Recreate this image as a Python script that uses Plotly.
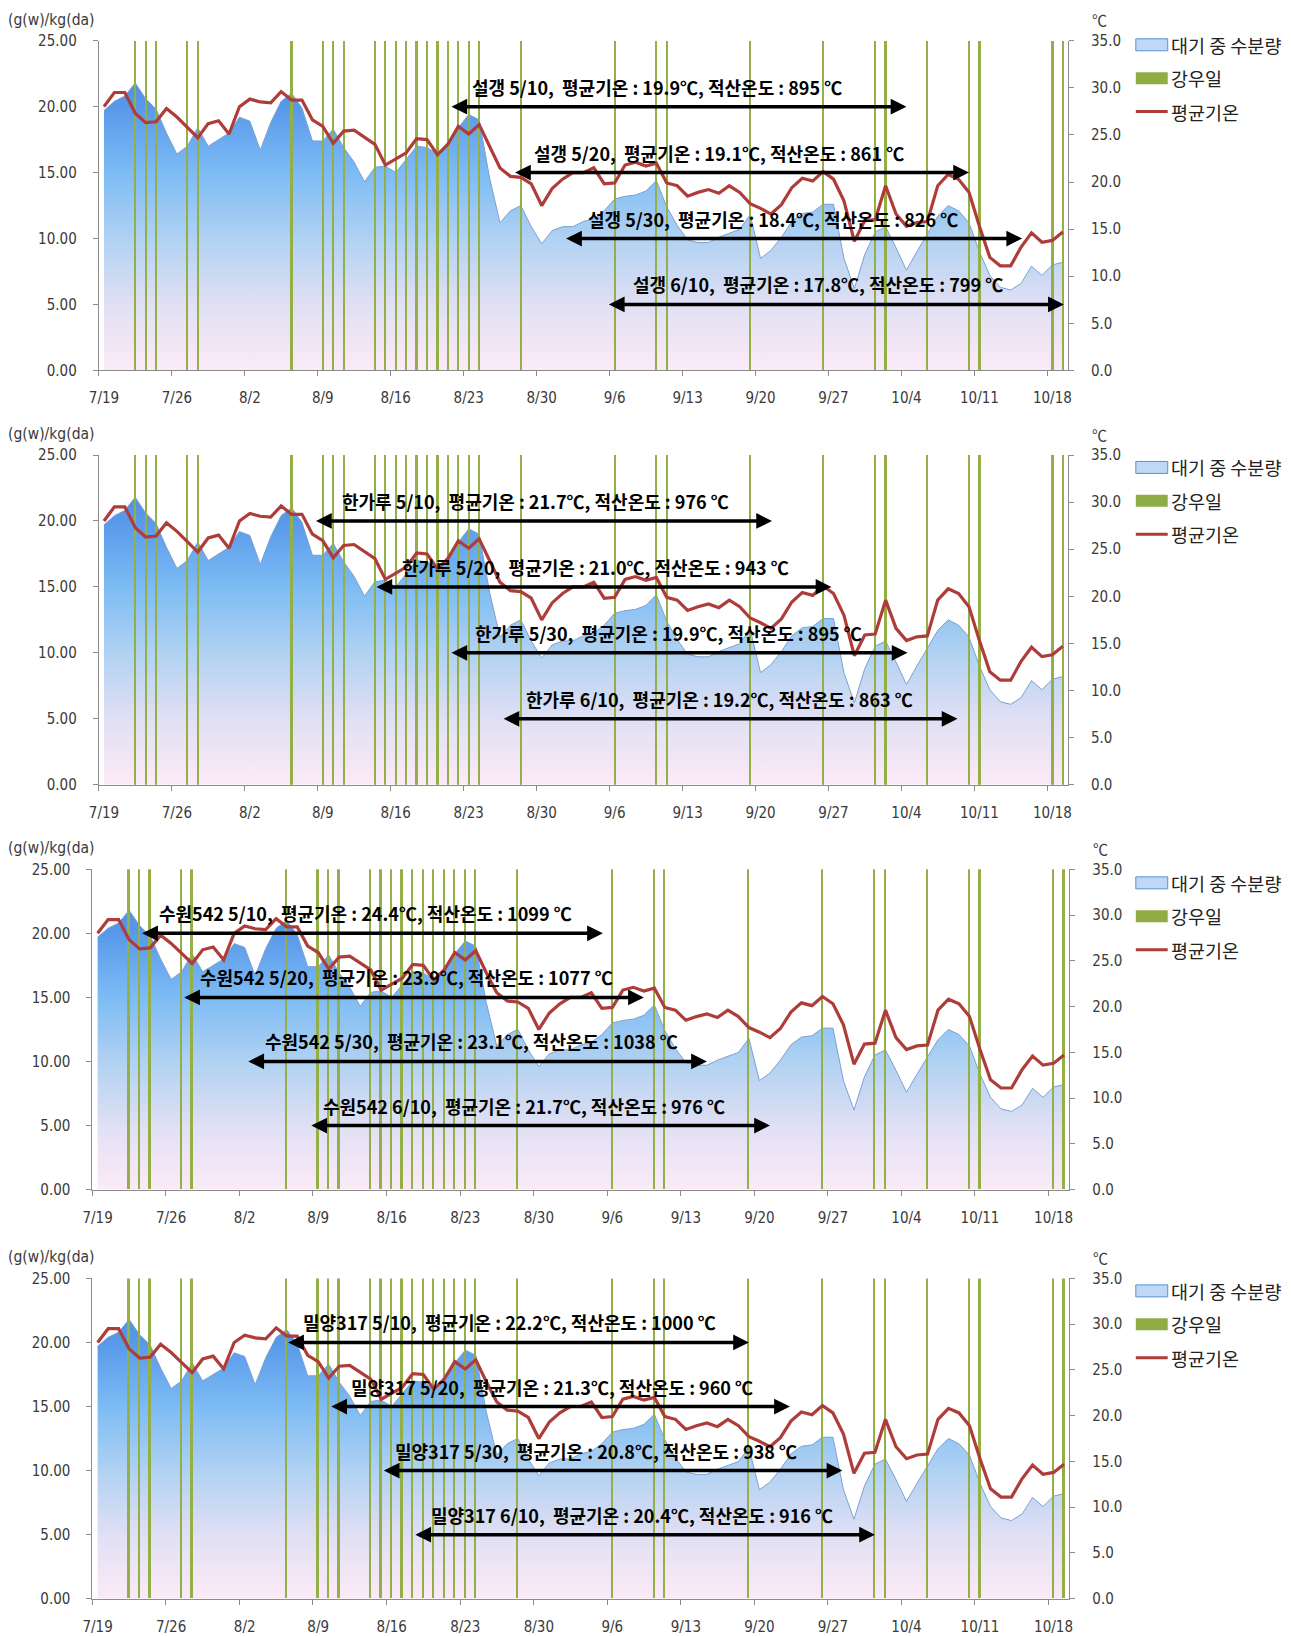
import pandas as pd
import plotly.graph_objects as go

# ---- daily series, 7/19 .. 10/19 -------------------------------------------
days = pd.date_range("2014-07-19", "2014-10-19", freq="D")
date_labels = [f"{d.month}/{d.day}" for d in days]

# atmospheric water content, g(w)/kg(da)
water = [
    19.7, 20.4, 20.8, 21.8, 20.6, 19.8, 18.0, 16.4, 17.0, 18.4,
    17.0, 17.5, 18.0, 19.2, 18.9, 16.7, 18.8, 20.4, 21.0, 19.9,
    17.4, 17.4, 18.3, 16.9, 15.8, 14.3, 15.4, 15.5, 15.0, 16.0,
    17.0, 16.9, 16.4, 17.3, 18.4, 19.4, 19.0, 14.6, 11.2, 12.1,
    12.5, 10.9, 9.6, 10.6, 10.9, 10.9, 11.3, 11.5, 12.1, 13.0,
    13.2, 13.3, 13.6, 14.4, 12.4, 11.0, 9.9, 9.7, 9.7, 10.1,
    10.4, 10.7, 11.8, 8.5, 9.1, 10.1, 11.3, 11.9, 12.0, 12.6,
    12.6, 8.5, 6.2, 8.8, 10.5, 10.9, 9.3, 7.6, 9.0, 10.3,
    11.7, 12.5, 12.1, 11.2, 9.0, 7.2, 6.3, 6.1, 6.6, 7.9,
    7.2, 8.0, 8.2,
]

# daily mean air temperature, deg C
temp = [
    28.0, 29.5, 29.5, 27.3, 26.3, 26.4, 27.8, 26.9, 25.8, 24.7,
    26.2, 26.5, 25.1, 28.0, 28.8, 28.5, 28.4, 29.6, 28.7, 28.7,
    26.6, 25.9, 24.1, 25.4, 25.5, 24.7, 24.0, 21.8, 22.5, 23.1,
    24.6, 24.5, 22.9, 24.0, 25.9, 25.1, 26.1, 23.7, 21.5, 20.6,
    20.5, 19.8, 17.5, 19.3, 20.3, 21.0, 21.0, 21.5, 19.8, 19.9,
    21.8, 22.1, 21.7, 22.0, 19.9, 19.6, 18.5, 18.9, 19.2, 18.8,
    19.6, 18.9, 17.7, 17.2, 16.6, 17.6, 19.4, 20.4, 20.1, 21.1,
    20.3, 18.0, 13.7, 15.9, 16.0, 19.6, 16.6, 15.3, 15.7, 15.8,
    19.6, 20.8, 20.3, 18.9, 15.3, 12.0, 11.1, 11.1, 13.1, 14.6,
    13.6, 13.8, 14.7,
]

# days with rainfall
rain_days = [
    "7/22", "7/23", "7/24", "7/27", "7/28", "8/6", "8/9", "8/10", "8/11",
    "8/14", "8/15", "8/16", "8/17", "8/18", "8/19", "8/20", "8/21", "8/22",
    "8/23", "8/24", "8/28", "9/6", "9/10", "9/11", "9/19", "9/26", "10/1",
    "10/2", "10/6", "10/10", "10/11", "10/18", "10/19",
]

tick_labels = date_labels[::7]

# ---- cultivars: sowing date, mean temp and accumulated temp over the span ---
cultivars = ["설갱", "한가루", "수원542", "밀양317"]
sow_dates = ["5/10", "5/20", "5/30", "6/10"]
mean_temp = [
    [19.9, 19.1, 18.4, 17.8],
    [21.7, 21.0, 19.9, 19.2],
    [24.4, 23.9, 23.1, 21.7],
    [22.2, 21.3, 20.8, 20.4],
]
accum_temp = [
    [895, 861, 826, 799],
    [976, 943, 895, 863],
    [1099, 1077, 1038, 976],
    [1000, 960, 938, 916],
]
# span of each period on the day axis (start, end) as day index
spans = [
    [(33.2, 77.0), (39.3, 83.0), (44.2, 88.1), (48.3, 92.1)],
    [(20.2, 64.1), (26.0, 69.8), (33.2, 77.1), (38.2, 81.9)],
    [(4.1, 48.1), (8.1, 52.0), (14.2, 58.0), (20.2, 64.0)],
    [(18.0, 62.0), (22.1, 65.9), (27.1, 70.9), (30.1, 74.0)],
]

legend_names = ["대기 중 수분량", "강우일", "평균기온"]

# ---- layout geometry (screen pixels) ---------------------------------------
PAD = 8
SX, SY = 0.992, 0.989
W, H = 1296, 1646


def px(x):
    return ((x - PAD) / SX) / W


def py(y):
    return 1 - ((y - PAD) / SY) / H


plot_x = [(97, 1069), (97, 1069), (90.6, 1070.3), (90.6, 1070.3)]
plot_y = [(39.7, 369.4), (454.0, 783.7), (868.2, 1188.5), (1277.3, 1597.6)]
legend_first = [43.8, 466.4, 881.8, 1289.8]
LEGEND_STEP = 33.4
label_x_shift = [
    [-2.0, -2.1, -2.0, -1.7],
    [-0.7, -0.7, -1.0, -1.0],
    [-0.6, -0.6, -0.5, -1.5],
    [-0.8, -0.7, -1.6, -1.2],
]
arrow_levels = [20, 15, 10, 5]

AX_COLOR = "#8c8c8c"
TXT_COLOR = "#3a3a3a"
TICK_FONT = dict(family="DejaVu Sans Condensed, Liberation Sans", size=15, color=TXT_COLOR)
KR_FONT = "Noto Sans CJK KR"
AREA_LINE = "#7e9fd0"
RAIN_COLOR = "#93af45"
TEMP_COLOR = "#ae3c39"

xs = list(range(len(water)))
rain_x = [date_labels.index(d) for d in rain_days]
WATER_MAX, TEMP_MAX = 25, 35

water_scale = [
    [0.0, "#fdebf7"], [0.2, "#e2e0f4"], [0.4, "#b2d2f2"],
    [0.6, "#7ebcf4"], [0.8, "#5899ea"], [1.0, "#4382d8"],
]

fig = go.Figure()
layout = dict(
    width=W, height=H, margin=dict(l=0, r=0, t=0, b=0),
    paper_bgcolor="white", plot_bgcolor="white", bargap=0, showlegend=False,
)
annotations = []
shapes = []

for p in range(4):
    xn = p + 1
    yl, yb, yr = 3 * p + 1, 3 * p + 2, 3 * p + 3
    xk = "x" if xn == 1 else f"x{xn}"
    ylk = "y" if yl == 1 else f"y{yl}"
    ybk, yrk = f"y{yb}", f"y{yr}"

    fig.add_trace(go.Scatter(
        x=xs, y=water, xaxis=xk, yaxis=ylk, mode="lines",
        fill="tozeroy",
        fillgradient=dict(type="vertical", colorscale=water_scale, start=0, stop=WATER_MAX),
        line=dict(color=AREA_LINE, width=1),
        name=legend_names[0], hoverinfo="skip",
    ))
    fig.add_trace(go.Bar(
        x=rain_x, y=[WATER_MAX] * len(rain_x), width=0.17,
        xaxis=xk, yaxis=ybk, marker=dict(color=RAIN_COLOR, line=dict(width=0)),
        name=legend_names[1], hoverinfo="skip",
    ))
    fig.add_trace(go.Scatter(
        x=xs, y=temp, xaxis=xk, yaxis=yrk, mode="lines",
        line=dict(color=TEMP_COLOR, width=3.2),
        name=legend_names[2], hoverinfo="skip",
    ))

    x0, x1 = plot_x[p]
    t, b = plot_y[p]
    xdom = [px(x0), px(x1)]
    ydom = [py(b), py(t)]

    layout["xaxis" if xn == 1 else f"xaxis{xn}"] = dict(
        domain=xdom, anchor=ylk, range=[-0.5, len(xs) - 0.5],
        tickmode="array", tickvals=list(range(0, len(xs), 7)), ticktext=tick_labels,
        ticks="", showline=True, linecolor=AX_COLOR, linewidth=1,
        showgrid=False, zeroline=False, tickfont=TICK_FONT, ticklabelstandoff=14,
        minor=dict(tickmode="array", tickvals=[k - 0.5 for k in range(0, len(xs), 7)],
                   ticks="outside", ticklen=5, tickcolor=AX_COLOR, showgrid=False),
    )
    layout["yaxis" if yl == 1 else f"yaxis{yl}"] = dict(
        domain=ydom, anchor=xk, range=[0, WATER_MAX], tickmode="linear", tick0=0, dtick=5,
        tickformat=".2f", ticks="outside", ticklen=5, tickcolor=AX_COLOR,
        showline=True, linecolor=AX_COLOR, showgrid=False, zeroline=False,
        tickfont=TICK_FONT, ticklabelstandoff=13,
    )
    layout[f"yaxis{yb}"] = dict(
        overlaying=ylk, anchor=xk, range=[0, WATER_MAX], visible=False,
    )
    layout[f"yaxis{yr}"] = dict(
        overlaying=ylk, anchor=xk, side="right", range=[0, TEMP_MAX],
        tickmode="linear", tick0=0, dtick=5, tickformat=".1f",
        ticks="outside", ticklen=5, tickcolor=AX_COLOR,
        showline=True, linecolor=AX_COLOR, showgrid=False, zeroline=False,
        tickfont=TICK_FONT, ticklabelstandoff=14,
    )

    # legend: key swatches + names
    for i, name in enumerate(legend_names):
        cy = legend_first[p] + i * LEGEND_STEP
        if i == 0:
            shapes.append(dict(type="rect", xref="paper", yref="paper",
                               x0=px(1137), x1=px(1169), y0=py(cy + 6), y1=py(cy - 6),
                               fillcolor="#bed8f6", line=dict(color="#5b8fd6", width=1)))
        elif i == 1:
            shapes.append(dict(type="rect", xref="paper", yref="paper",
                               x0=px(1137), x1=px(1169), y0=py(cy + 6), y1=py(cy - 6),
                               fillcolor="#8fac45", line=dict(width=0)))
        else:
            shapes.append(dict(type="line", xref="paper", yref="paper",
                               x0=px(1137), x1=px(1169), y0=py(cy), y1=py(cy),
                               line=dict(color=TEMP_COLOR, width=3)))
        annotations.append(dict(
            xref="paper", yref="paper", x=px(1170), y=py(cy), text=name,
            showarrow=False, xanchor="left", yanchor="middle",
            font=dict(family=KR_FONT, size=18.5, color="#222"),
        ))

    # unit captions
    annotations.append(dict(
        xref="paper", yref="paper", x=px(4), y=py(t - 21),
        text="(g(w)/kg(da)", showarrow=False, xanchor="left", yanchor="middle",
        font=dict(family=TICK_FONT["family"], size=15.5, color=TXT_COLOR),
    ))
    annotations.append(dict(
        xref="paper", yref="paper", x=px(x1 + 22), y=py(t - 21),
        text="℃", showarrow=False, xanchor="left", yanchor="middle",
        font=dict(family=KR_FONT, size=15, color=TXT_COLOR),
    ))

    # period arrows with their summaries
    for k in range(4):
        s, e = spans[p][k]
        lvl = arrow_levels[k]
        annotations.append(dict(
            xref=xk, yref=ylk, axref=xk, ayref=ylk, x=e, y=lvl, ax=s, ay=lvl,
            text="", showarrow=True, arrowside="end+start",
            arrowhead=2, startarrowhead=2, arrowsize=0.9, startarrowsize=0.9,
            arrowwidth=3.5, arrowcolor="black", standoff=0, startstandoff=0,
        ))
        label = (f"{cultivars[p]} {sow_dates[k]},  평균기온 : {mean_temp[p][k]:.1f}℃, "
                 f"적산온도 : {accum_temp[p][k]} ℃")
        annotations.append(dict(
            xref=xk, yref=ylk, x=(s + e) / 2 + label_x_shift[p][k], y=lvl, yshift=20,
            text=f"<b>{label}</b>", showarrow=False, xanchor="center", yanchor="middle",
            font=dict(family=KR_FONT, size=18, color="black"),
        ))

layout["annotations"] = annotations
layout["shapes"] = shapes
fig.update_layout(**layout)
fig.write_html("out.html")
